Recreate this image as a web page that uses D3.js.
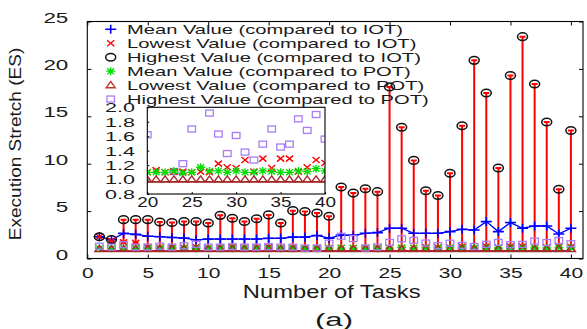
<!DOCTYPE html>
<html><head><meta charset="utf-8">
<script src="https://cdn.jsdelivr.net/npm/d3@7"></script>
<style>
html,body{margin:0;padding:0;background:#fff;}
svg{display:block;}
text{font-family:"Liberation Sans",Arial,Helvetica,sans-serif;fill:#1a1a1a;}
</style></head><body>
<svg id="chart" width="587" height="329"></svg>
<script>
// Execution stretch per task count, relative to IOT and POT
const tasks = d3.range(1, 41);
const meanIOT = [2.3, 1.97, 2.65, 2.55, 2.35, 2.3, 2.22, 2.15, 1.97, 2.05,
                 2.05, 2.05, 2.05, 2.05, 2.13, 2.13, 2.25, 2.25, 2.43, 2.15,
                 2.47, 2.45, 2.66, 2.73, 3.19, 3.19, 2.66, 2.66, 2.66, 2.84,
                 3.08, 3.01, 3.89, 2.84, 3.79, 3.19, 3.43, 3.43, 2.59, 3.19];
const lowIOT  = [2.3, 1.85, 1.7, 1.65, 1.2, 1.15, 1.2, 1.15, 1.2, 1.1,
                 1.15, 1.2, 1.1, 1.15, 1.2, 1.1, 1.15, 1.1, 1.15, 1.1,
                 1.13, 1.1, 1.11, 1.11, 1.1, 1.11, 1.1, 1.22, 1.17, 1.16,
                 1.27, 1.11, 1.29, 1.16, 1.29, 1.29, 1.11, 1.17, 1.27, 1.23];
const highIOT = [2.3, 2.0, 4.1, 4.1, 4.1, 3.85, 3.8, 3.9, 3.9, 3.75,
                 4.55, 4.25, 3.9, 4.2, 4.6, 3.75, 5.05, 4.95, 4.8, 4.45,
                 7.55, 6.9, 7.35, 7.05, 18.1, 13.85, 10.35, 7.15, 6.65, 9.0,
                 14.0, 20.9, 17.45, 9.55, 19.3, 23.4, 18.4, 14.4, 7.3, 13.5];
const meanPOT = [1.08, 1.08, 1.1, 1.08, 1.08, 1.08, 1.08, 1.1, 1.08, 1.08,
                 1.08, 1.08, 1.08, 1.08, 1.08, 1.08, 1.08, 1.08, 1.08, 1.1,
                 1.1, 1.1, 1.12, 1.09, 1.1, 1.17, 1.12, 1.12, 1.1, 1.12,
                 1.1, 1.1, 1.12, 1.11, 1.1, 1.1, 1.12, 1.11, 1.15, 1.12];
const lowPOT  = [1.0, 1.0, 1.0, 1.0, 1.0, 1.0, 1.0, 1.0, 1.0, 1.0,
                 1.0, 1.0, 1.0, 1.0, 1.0, 1.0, 1.0, 1.0, 1.0, 1.0,
                 1.0, 1.0, 1.0, 1.0, 1.0, 1.0, 1.0, 1.0, 1.0, 1.0,
                 1.0, 1.0, 1.0, 1.0, 1.0, 1.0, 1.0, 1.0, 1.0, 1.0];
const highPOT = [1.3, 1.2, 1.45, 1.2, 1.2, 1.3, 1.2, 1.35, 1.5, 1.2,
                 1.2, 1.25, 1.2, 1.2, 1.25, 1.2, 1.2, 1.1, 1.1, 1.62,
                 2.35, 2.1, 1.11, 1.22, 1.7, 2.08, 1.92, 1.63, 1.36, 1.61,
                 1.38, 1.27, 1.49, 1.7, 1.45, 1.49, 1.84, 1.68, 1.9, 1.56];

const legendLabels = [
  "Mean Value (compared to IOT)",
  "Lowest Value (compared to IOT)",
  "Highest Value (compared to IOT)",
  "Mean Value (compared to POT)",
  "Lowest Value (compared to POT)",
  "Highest Value (compared to POT)"
];
const xTicks = [0, 5, 10, 15, 20, 25, 30, 35, 40];
const yTicks = [0, 5, 10, 15, 20, 25];
const insetXTicks = [20, 25, 30, 35, 40];
const insetYTicks = [0.8, 1.0, 1.2, 1.4, 1.6, 1.8, 2.0];

const C = {blue:"#0000ff", red:"#ff0000", black:"#111", green:"#00dd00",
           brown:"#a52a2a", purple:"#a97cf5"};

const svg = d3.select("#chart");

// marker shapes
const shapes = {
  plus: (g, c) => g.append("path").attr("d", "M-5.5,0H5.5M0,-4.5V4.5")
      .attr("stroke", c).attr("stroke-width", 1.6).attr("fill", "none"),
  cross: (g, c) => g.append("path").attr("d", "M-3.6,-3L3.6,3M-3.6,3L3.6,-3")
      .attr("stroke", c).attr("stroke-width", 1.4).attr("fill", "none"),
  circle: (g, c) => g.append("ellipse").attr("rx", 5).attr("ry", 3.8)
      .attr("stroke", c).attr("stroke-width", 1.5).attr("fill", "none"),
  star: (g, c) => g.append("path").attr("d", "M-4.5,0H4.5M0,-4V4M-3.4,-3L3.4,3M-3.4,3L3.4,-3")
      .attr("stroke", c).attr("stroke-width", 1.3).attr("fill", "none"),
  tri: (g, c) => g.append("path").attr("d", "M0,-3.6L4.5,2.6L-4.5,2.6Z")
      .attr("stroke", c).attr("stroke-width", 1.4).attr("fill", "none"),
  square: (g, c) => g.append("rect").attr("x", -3.8).attr("y", -3).attr("width", 7.6).attr("height", 6)
      .attr("stroke", c).attr("stroke-width", 1.3).attr("fill", "none")
};

function markers(parent, xs, ys, vals, shape, color) {
  const g = parent.append("g");
  g.selectAll("g").data(vals).join("g")
    .attr("transform", (d, i) => `translate(${xs(tasks[i])},${ys(d)})`)
    .each(function () { shapes[shape](d3.select(this), color); });
  return g;
}

// ---------- main axes ----------
const x = d3.scaleLinear().domain([0, 41]).range([87.3, 583]);
const y = d3.scaleLinear().domain([0, 25]).range([258.5, 21.5]);

function styleAxis(g) {
  g.attr("font-size", null).attr("font-family", null);
  g.select(".domain").remove();
  g.selectAll("line").attr("stroke", "#000");
}

const gxb = svg.append("g").attr("transform", `translate(0,${y(0)})`)
  .call(d3.axisBottom(x).tickValues(xTicks).tickSize(-4).tickSizeOuter(0));
styleAxis(gxb);
gxb.selectAll("text").attr("y", 19.3).attr("dy", 0).attr("font-size", 14)
  .attr("transform", "scale(1.5,1)");

const gxt = svg.append("g").attr("transform", `translate(0,${y(25)})`)
  .call(d3.axisTop(x).tickValues(xTicks).tickSize(-4).tickFormat(""));
styleAxis(gxt);

const gyl = svg.append("g").attr("transform", `translate(${x(0)},0)`)
  .call(d3.axisLeft(y).tickValues(yTicks).tickSize(-4));
styleAxis(gyl);
gyl.selectAll("text").attr("x", -19 / 1.6).attr("dy", 0.5).attr("font-size", 14)
  .attr("transform", "scale(1.6,1)");

const gyr = svg.append("g").attr("transform", `translate(${x(41)},0)`)
  .call(d3.axisRight(y).tickValues(yTicks).tickSize(-4).tickFormat(""));
styleAxis(gyr);

// ---------- main data ----------
const plot = svg.append("g");

// red range bars from lowest to highest IOT value, with caps
const bars = plot.append("g").attr("stroke", C.red).attr("stroke-width", 2).attr("fill", "none");
bars.selectAll("path").data(tasks).join("path")
  .attr("d", (t, i) => {
    const xc = x(t), y1 = y(lowIOT[i]), y2 = y(highIOT[i]);
    return `M${xc},${y1}V${y2}M${xc - 3},${y2}H${xc + 3}M${xc - 3},${y1}H${xc + 3}`;
  });

// mean IOT line
plot.append("path").datum(meanIOT)
  .attr("d", d3.line().x((d, i) => x(tasks[i])).y(d => y(d)))
  .attr("stroke", C.blue).attr("stroke-width", 1.3).attr("fill", "none");
markers(plot, x, y, meanIOT, "plus", C.blue);
markers(plot, x, y, lowIOT, "cross", C.red);
markers(plot, x, y, highIOT, "circle", C.black);
markers(plot, x, y, meanPOT, "star", C.green);
plot.append("path").datum(lowPOT)
  .attr("d", d3.line().x((d, i) => x(tasks[i])).y(d => y(d) + 2))
  .attr("stroke", C.brown).attr("stroke-width", 1.8).attr("fill", "none");
markers(plot, x, y, lowPOT, "tri", C.brown);
markers(plot, x, y, highPOT, "square", C.purple);

// frame
svg.append("rect").attr("x", x(0)).attr("y", y(25))
  .attr("width", x(41) - x(0)).attr("height", y(0) - y(25))
  .attr("fill", "none").attr("stroke", "#000").attr("stroke-width", 1.1);

// ---------- legend ----------
const legendShapes = [["plus", C.blue], ["cross", C.red], ["circle", C.black],
                      ["star", C.green], ["tri", "#c0392b"], ["square", C.purple]];
const leg = svg.append("g");
legendLabels.forEach((lab, i) => {
  const yc = 29.3 + i * 13.95;
  const m = leg.append("g").attr("transform", `translate(110.7,${yc})`);
  shapes[legendShapes[i][0]](m, legendShapes[i][1]);
  leg.append("text").attr("transform", `translate(127,${yc + 4.7}) scale(1.55,1)`)
    .attr("font-size", 13).text(lab);
});

// ---------- inset: tasks 20-40, values 0.8-2.0 ----------
const xi = d3.scaleLinear().domain([20, 40]).range([147.3, 325]);
const yi = d3.scaleLinear().domain([0.8, 2.0]).range([194, 107.3]);
const inset = svg.append("g");
inset.append("rect").attr("x", xi(20)).attr("y", yi(2.0))
  .attr("width", xi(40) - xi(20)).attr("height", yi(0.8) - yi(2.0)).attr("fill", "#fff");
svg.append("clipPath").attr("id", "insetClip").append("rect")
  .attr("x", xi(20)).attr("y", yi(2.0))
  .attr("width", xi(40) - xi(20)).attr("height", yi(0.8) - yi(2.0));
const ip = inset.append("g").attr("clip-path", "url(#insetClip)");
markers(ip, xi, yi, highPOT, "square", C.purple);
markers(ip, xi, yi, lowIOT, "cross", C.red);
markers(ip, xi, yi, meanPOT, "star", C.green);
ip.append("path").datum(lowPOT)
  .attr("d", d3.line().x((d, i) => xi(tasks[i])).y(d => yi(d) + 2))
  .attr("stroke", C.brown).attr("stroke-width", 1.2).attr("fill", "none");
markers(ip, xi, yi, lowPOT, "tri", C.brown);

const gib = inset.append("g").attr("transform", `translate(0,${yi(0.8)})`)
  .call(d3.axisBottom(xi).tickValues(insetXTicks).tickSize(-2).tickSizeOuter(0));
styleAxis(gib);
gib.selectAll("text").attr("y", 12.5).attr("dy", 0).attr("font-size", 14)
  .attr("transform", "scale(1.35,1)");
const gil = inset.append("g").attr("transform", `translate(${xi(20)},0)`)
  .call(d3.axisLeft(yi).tickValues(insetYTicks).tickSize(-2).tickFormat(d3.format(".1f")));
styleAxis(gil);
gil.selectAll("text").attr("x", -12.3 / 1.75).attr("dy", 4.4).attr("font-size", 12.3)
  .attr("transform", "scale(1.75,1)");
inset.append("rect").attr("x", xi(20)).attr("y", yi(2.0))
  .attr("width", xi(40) - xi(20)).attr("height", yi(0.8) - yi(2.0))
  .attr("fill", "none").attr("stroke", "#000").attr("stroke-width", 1.1);

// ---------- titles ----------
svg.append("text").attr("transform", "translate(331.7,297.5) scale(1.32,1)")
  .attr("text-anchor", "middle").attr("font-size", 18).text("Number of Tasks");
svg.append("text").attr("transform", "translate(20.7,144) rotate(-90) scale(1.12,1)")
  .attr("text-anchor", "middle").attr("font-size", 17).text("Execution Stretch (ES)");
svg.append("text").attr("transform", "translate(334,325.5) scale(1.64,1)")
  .attr("text-anchor", "middle").attr("font-size", 19).text("(a)");
</script>
</body></html>
